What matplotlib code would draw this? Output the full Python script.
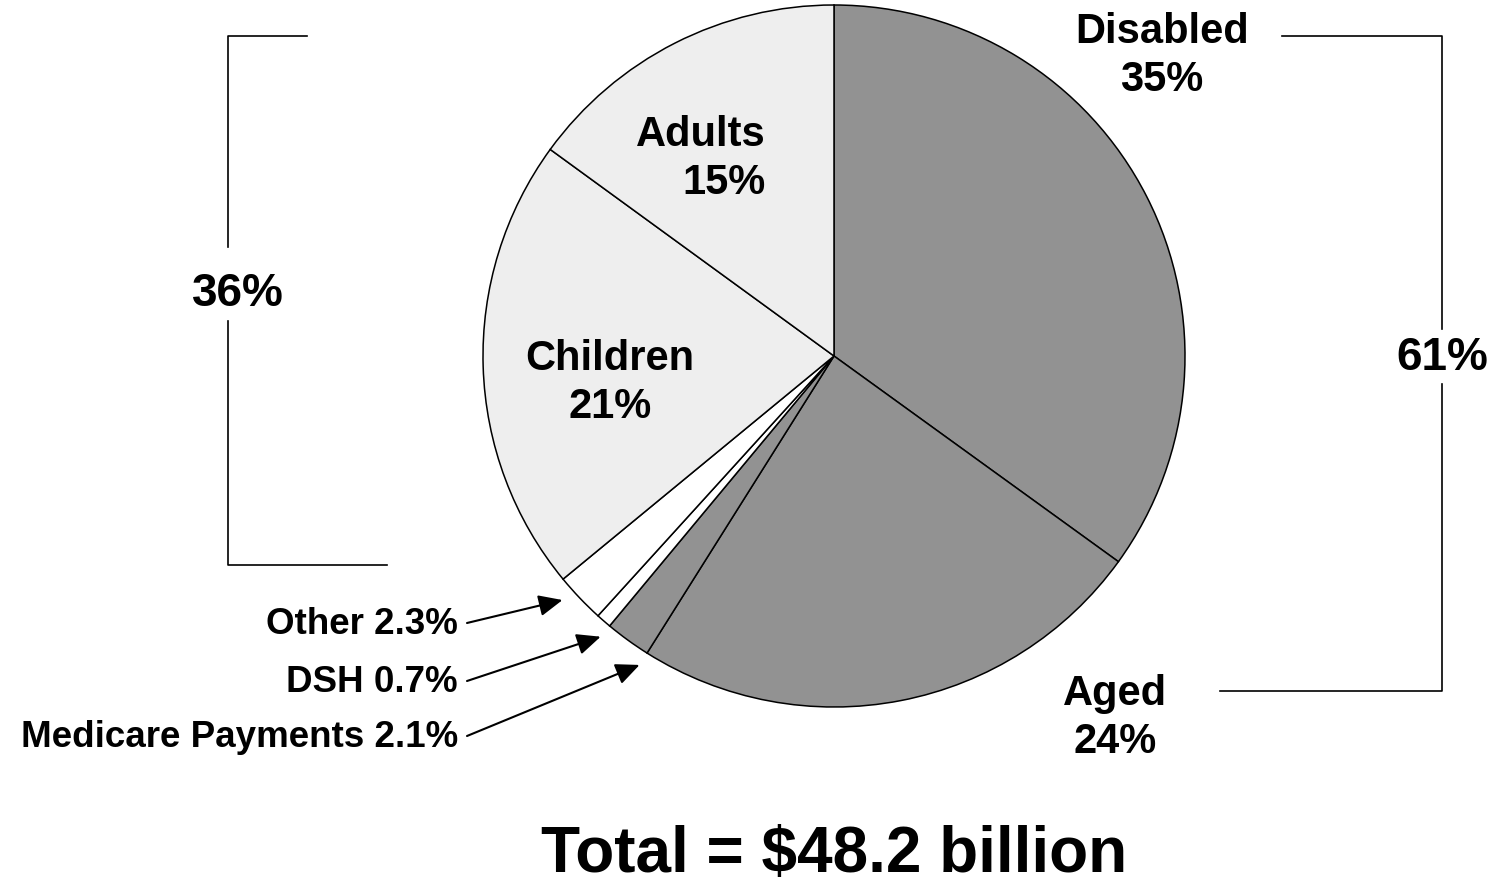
import numpy as np
import matplotlib.pyplot as plt

plt.rcParams['font.family'] = ['Liberation Sans', 'DejaVu Sans']
plt.rcParams['font.weight'] = 'bold'

# slices, clockwise from 12 o'clock
names = ["Disabled", "Aged", "Medicare Payments", "DSH", "Other", "Children", "Adults"]
values = [35, 24, 2.1, 0.7, 2.3, 21, 15]
colors = ["#929292", "#929292", "#929292", "#ffffff", "#ffffff", "#eeeeee", "#eeeeee"]
groups = ["61%", "36%"]
total = "Total = $48.2 billion"

fig = plt.figure(figsize=(14.98, 8.87), dpi=100)
ax = fig.add_axes([0, 0, 1, 1])

cx, cy, R = 834, 357, 351
# y axis runs downwards (pixel-like), so counterclock=True draws clockwise on screen
wedges, _ = ax.pie(values, colors=colors, startangle=-90, counterclock=True,
                   center=(cx, cy), radius=R, frame=True,
                   wedgeprops=dict(edgecolor='black', linewidth=1.1))
ax.set_xlim(0, 1498)
ax.set_ylim(887, 0)
ax.set_aspect('equal')
ax.axis('off')

big = dict(fontsize=30, fontweight='bold', va='center', linespacing=1.25)
ax.text(1162, 56, f"{names[0]}\n{values[0]}%", ha='center', **big)
ax.text(1115, 718, f"{names[1]}\n{values[1]}%", ha='center', **big)
ax.text(610, 383, f"{names[5]}\n{values[5]}%", ha='center', **big)
ax.text(766, 159, f"{names[6]}\n{values[6]}%", ha='right', multialignment='right', **big)

# small slices with arrows (label y, where along the wedge the arrow points)
small = {4: (625, 0.7), 3: (683, 0.0), 2: (738, 0.0)}
for i, (ty, frac) in small.items():
    w = wedges[i]
    ang = np.deg2rad(w.theta1 + frac * (w.theta2 - w.theta1))
    tip = (cx + 1.04 * R * np.cos(ang), cy + 1.04 * R * np.sin(ang))
    ax.text(458, ty, f"{names[i]} {values[i]}%", fontsize=26.5, fontweight='bold',
            ha='right', va='center')
    ax.annotate("", xy=tip, xytext=(467, ty - 1),
                arrowprops=dict(arrowstyle='-|>,head_length=1.45,head_width=0.65',
                                color='black', lw=1.5, shrinkA=0, shrinkB=0))

# brackets
lk = dict(color='black', lw=1.2)
ax.plot([307, 228, 228], [37, 37, 248], **lk)
ax.plot([228, 228, 387], [322, 566, 566], **lk)
ax.text(238, 294, groups[1], fontsize=33, fontweight='bold', ha='center', va='center')
ax.plot([1282, 1442, 1442], [37, 37, 330], **lk)
ax.plot([1442, 1442, 1220], [385, 692, 692], **lk)
ax.text(1442, 358, groups[0], fontsize=33, fontweight='bold', ha='center', va='center')

ax.text(834, 855, total, fontsize=46, fontweight='bold', ha='center', va='center')

fig.savefig("out.png", dpi=100)
